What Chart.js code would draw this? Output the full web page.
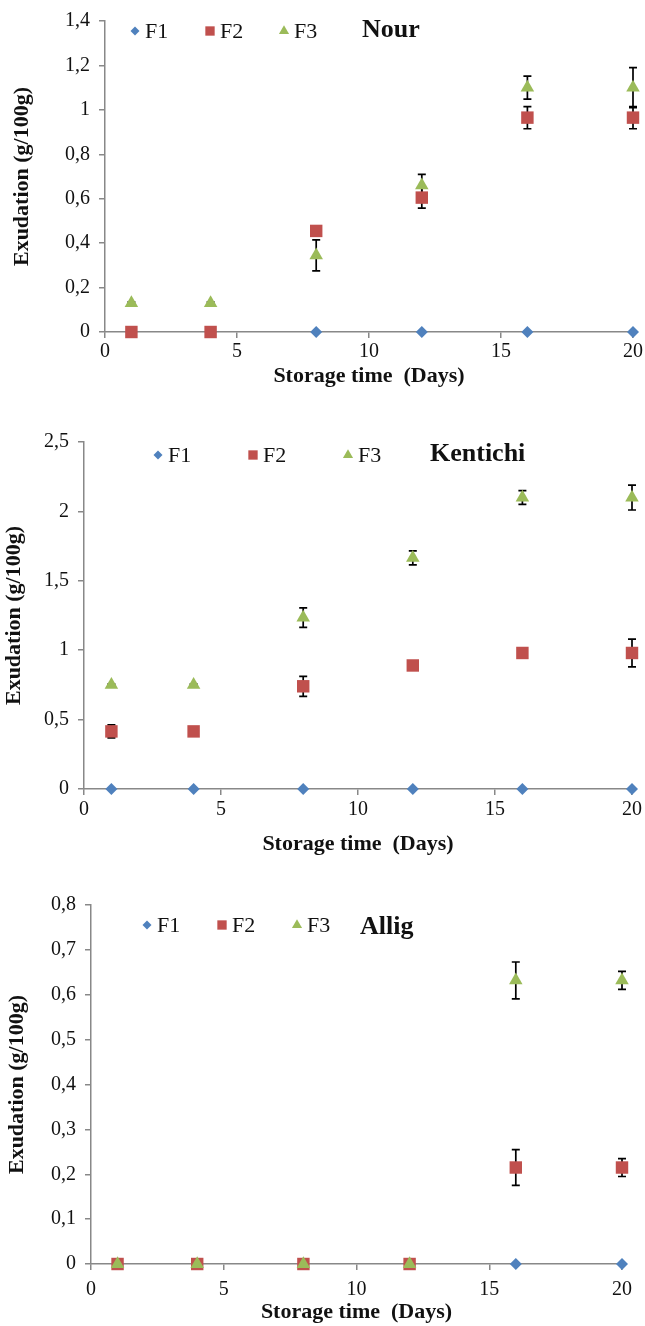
<!DOCTYPE html>
<html>
<head>
<meta charset="utf-8">
<script src="https://cdn.jsdelivr.net/npm/chart.js@4"></script>
<style>
  body { margin: 0; background: #fff; }
  .box { position: absolute; left: 0; width: 645px; }
</style>
</head>
<body>
<div class="box" style="top:0;height:400px"><canvas id="nour"></canvas></div>
<div class="box" style="top:400px;height:470px"><canvas id="kentichi"></canvas></div>
<div class="box" style="top:870px;height:456px"><canvas id="allig"></canvas></div>
<script>
// storage days and x tick labels
const days = [1, 4, 8, 12, 16, 20]
const xTicks = [0, 5, 10, 15, 20]
const seriesNames = ['F1', 'F2', 'F3']

// Nour
const nourF1 = [0, 0, 0, 0, 0, 0]
const nourF2 = [0, 0, 0.455, 0.605, 0.965, 0.965]
const nourF3 = [0.13, 0.13, 0.345, 0.66, 1.1, 1.1]
const nourF2Err = [0, 0, 0, 0.047, 0.05, 0.05]
const nourF3Err = [0.005, 0.005, 0.07, 0.05, 0.052, 0.09]
const nourYTicks = ['0', '0,2', '0,4', '0,6', '0,8', '1', '1,2', '1,4']

// Kentichi
const kentichiF1 = [0, 0, 0, 0, 0, 0]
const kentichiF2 = [0.415, 0.415, 0.74, 0.89, 0.98, 0.98]
const kentichiF3 = [0.75, 0.75, 1.235, 1.665, 2.1, 2.1]
const kentichiF2Err = [0.047, 0, 0.072, 0, 0, 0.1]
const kentichiF3Err = [0.005, 0.005, 0.07, 0.05, 0.05, 0.09]
const kentichiYTicks = ['0', '0,5', '1', '1,5', '2', '2,5']

// Allig
const alligF1 = [0, 0, 0, 0, 0, 0]
const alligF2 = [0, 0, 0, 0, 0.215, 0.215]
const alligF3 = [0, 0, 0, 0, 0.632, 0.632]
const alligF2Err = [0, 0, 0, 0, 0.04, 0.02]
const alligF3Err = [0, 0, 0, 0, 0.041, 0.02]
const alligYTicks = ['0', '0,1', '0,2', '0,3', '0,4', '0,5', '0,6', '0,7', '0,8']

const colors = ['#4F81BD', '#C0504D', '#9BBB59']
const styles = ['rectRot', 'rect', 'triangle']
const radii = [6, 8.8, 7.8]
const serif = 'Liberation Serif'

// vertical error bars with caps, drawn under the markers
const errorBars = {
    id: 'errorBars',
    beforeDatasetsDraw(chart) {
        const {ctx, scales: {x, y}} = chart
        ctx.save()
        ctx.strokeStyle = '#000'
        ctx.lineWidth = 1.7
        chart.data.datasets.forEach(ds => {
            if (!ds.errors) return
            ds.data.forEach((p, i) => {
                const e = ds.errors[i]
                if (!e) return
                const px = x.getPixelForValue(p.x)
                const top = y.getPixelForValue(p.y + e)
                const bot = y.getPixelForValue(p.y - e)
                ctx.beginPath()
                ctx.moveTo(px, top); ctx.lineTo(px, bot)
                ctx.moveTo(px - 4, top); ctx.lineTo(px + 4, top)
                ctx.moveTo(px - 4, bot); ctx.lineTo(px + 4, bot)
                ctx.stroke()
            })
        })
        ctx.restore()
    }
}

const drawMarker = (ctx, style, x, y, r) => {
    ctx.beginPath()
    if (style === 'rectRot') {
        ctx.moveTo(x - r, y); ctx.lineTo(x, y - r); ctx.lineTo(x + r, y); ctx.lineTo(x, y + r)
    } else if (style === 'rect') {
        const s = r * Math.SQRT1_2
        ctx.rect(x - s, y - s, 2 * s, 2 * s)
    } else {
        const w = r * Math.sqrt(3) / 2
        ctx.moveTo(x, y - r); ctx.lineTo(x + w, y + r / 2); ctx.lineTo(x - w, y + r / 2)
    }
    ctx.closePath()
    ctx.fill()
}

// legend row and cultivar name, inside the plot
const innerLegend = {
    id: 'innerLegend',
    afterDraw(chart, args, opts) {
        const ctx = chart.ctx
        ctx.save()
        ctx.textBaseline = 'middle'
        seriesNames.forEach((name, i) => {
            ctx.fillStyle = colors[i]
            drawMarker(ctx, styles[i], opts.markerX[i], opts.y, radii[i] * 0.75)
            ctx.fillStyle = '#111'
            ctx.font = '22px "' + serif + '"'
            ctx.fillText(name, opts.markerX[i] + 10, opts.y + 1)
        })
        ctx.font = 'bold 26px "' + serif + '"'
        ctx.fillText(opts.name, opts.nameX, opts.nameY)
        ctx.restore()
    }
}

const makeChart = (id, f1, f2, f3, e2, e3, yMax, yStep, yLabels, lay) => {
    const values = [f1, f2, f3]
    const errs = [null, e2, e3]
    const datasets = values.map((vals, i) => ({
        label: seriesNames[i],
        data: days.map((d, k) => ({x: d, y: vals[k]})),
        errors: errs[i],
        pointStyle: styles[i],
        pointRadius: radii[i],
        backgroundColor: colors[i],
        borderColor: colors[i],
        borderWidth: 0,
        showLine: false,
        clip: false,
        order: 2 - i
    }))
    const axisFont = {family: serif, size: 20}
    const titleFont = {family: serif, size: 22, weight: 'bold'}
    return new Chart(document.getElementById(id), {
        type: 'scatter',
        data: {datasets},
        options: {
            responsive: true,
            maintainAspectRatio: false,
            animation: false,
            layout: {padding: {top: lay.top, right: lay.right, left: 0, bottom: 0}},
            plugins: {
                legend: {display: false},
                tooltip: {enabled: false},
                innerLegend: lay.legend
            },
            scales: {
                x: {
                    type: 'linear',
                    min: 0,
                    max: 20,
                    afterBuildTicks: s => { s.ticks = xTicks.map(v => ({value: v})) },
                    afterFit: s => { s.height = lay.xAxisH },
                    grid: {drawOnChartArea: false, tickLength: 6, color: '#888', lineWidth: 1.5},
                    border: {color: '#888', width: 1.5},
                    ticks: {font: axisFont, color: '#111', padding: lay.xTickPad, maxRotation: 0},
                    title: {display: true, text: 'Storage time  (Days)', font: titleFont, color: '#111',
                        padding: {top: 0, bottom: lay.xTitlePad}}
                },
                y: {
                    min: 0,
                    max: yMax,
                    ticks: {stepSize: yStep, font: axisFont, color: '#111', padding: 9,
                        callback: (v, i) => yLabels[i]},
                    afterFit: s => { s.width = lay.left },
                    grid: {drawOnChartArea: false, tickLength: 6, color: '#888', lineWidth: 1.5},
                    border: {color: '#888', width: 1.5},
                    title: {display: true, text: 'Exudation (g/100g)', font: titleFont, color: '#111',
                        padding: {top: lay.yTitlePad, bottom: 0}}
                }
            }
        },
        plugins: [errorBars, innerLegend]
    })
}

makeChart('nour', nourF1, nourF2, nourF3, nourF2Err, nourF3Err, 1.4, 0.2, nourYTicks, {
    top: 18, right: 12, left: 105, xAxisH: 68, xTickPad: 2, xTitlePad: 10, yTitlePad: 9,
    legend: {y: 31, markerX: [135, 210, 284], name: 'Nour', nameX: 362, nameY: 30}
})
makeChart('kentichi', kentichiF1, kentichiF2, kentichiF3, kentichiF2Err, kentichiF3Err, 2.5, 0.5, kentichiYTicks, {
    top: 42, right: 12, left: 84, xAxisH: 81, xTickPad: 3, xTitlePad: 12, yTitlePad: 1,
    legend: {y: 55, markerX: [158, 253, 348], name: 'Kentichi', nameX: 430, nameY: 54}
})
makeChart('allig', alligF1, alligF2, alligF3, alligF2Err, alligF3Err, 0.8, 0.1, alligYTicks, {
    top: 35, right: 23, left: 91, xAxisH: 62, xTickPad: 8, xTitlePad: 0, yTitlePad: 4,
    legend: {y: 55, markerX: [147, 222, 297], name: 'Allig', nameX: 360, nameY: 57}
})
</script>
</body>
</html>
